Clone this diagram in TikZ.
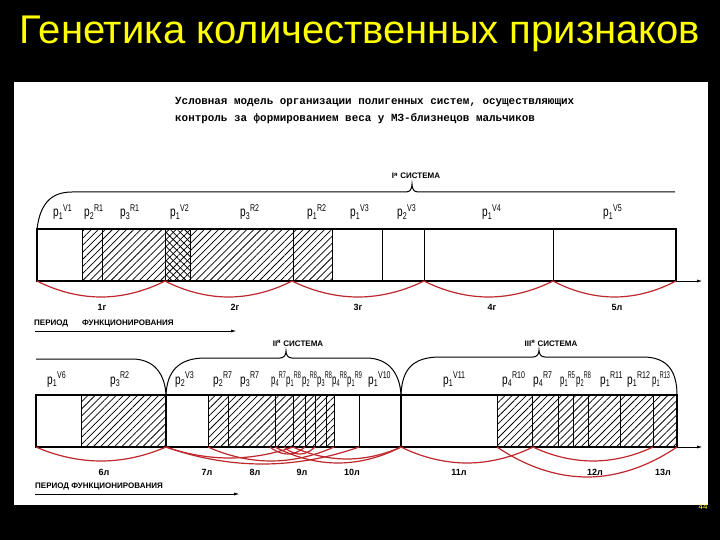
\documentclass[tikz,border=0pt]{standalone}
\usepackage{fontspec}
\setmainfont{Liberation Sans}
\newfontfamily\monofnt{Liberation Mono}
\usetikzlibrary{patterns.meta,arrows.meta}
\definecolor{arcred}{RGB}{190,40,45}
\definecolor{ttl}{RGB}{255,255,0}
\newcommand{\pl}[2]{\scalebox{0.72}[1]{p\textsubscript{#1}\textsuperscript{#2}}}
\newcommand{\plc}[2]{\scalebox{0.56}[1]{p\textsubscript{#1}\textsuperscript{#2}}}
\begin{document}
\begin{tikzpicture}[x=1pt,y=-1pt,
  bar/.style={draw=black,line width=1.1pt},
  sep/.style={draw=black,line width=0.8pt},
  hat/.style={pattern={Lines[angle=45,distance=5pt,line width=0.75pt]}},
  hatx/.style={pattern={Lines[angle=-45,distance=5pt,line width=0.75pt]}},
  arcr/.style={draw=arcred,line width=1.2pt},
  brace/.style={draw=black,line width=1pt},
  lab/.style={anchor=base west,inner sep=0pt,font=\fontsize{14}{14}\selectfont},
  per/.style={anchor=base,inner sep=0pt,font=\bfseries\fontsize{9}{9}\selectfont},
  sys/.style={anchor=base,inner sep=0pt,font=\bfseries\fontsize{8}{8}\selectfont},
  captxt/.style={anchor=base west,inner sep=0pt,font=\monofnt\bfseries\fontsize{10.9}{10.9}\selectfont},
  axl/.style={draw=black,line width=1pt,-{Latex[length=6pt,width=3pt]}}]
\useasboundingbox (0,0) rectangle (720,540);
\fill[black] (0,0) rectangle (720,540);
\fill[white] (14,82) rectangle (708,505);
% title
\node[anchor=base,inner sep=0pt,text=ttl,font=\fontsize{40}{40}\selectfont] (title) at (360,44) {Генетика количественных признаков};
\node[anchor=base,inner sep=0pt,text=ttl,font=\fontsize{8}{8}\selectfont] (pg) at (703,509) {44};
% caption
\node[captxt] (cap1) at (175,105) {Условная модель организации полигенных систем, осуществляющих};
\node[captxt] (cap2) at (175,122) {контроль за формированием веса у МЗ-близнецов мальчиков};

% ---------- row 1 ----------
\fill[hat] (82,229) rectangle (332,281);
\fill[hatx] (165,229) rectangle (190,281);
\foreach \x in {82,102,165,190,293,332,382,424,553} \draw[sep] (\x,229) -- (\x,281);
\draw[bar] (37,229) rectangle (676,281);
\draw[axl] (676,281) -- (703,281);
% brace I
\draw[brace] (37,229) .. controls (40,205) and (50,192) .. (72,192) -- (406,192)
  .. controls (410,192) and (412,189) .. (412,184) .. controls (412,189) and (414,192) .. (418,192) -- (675,192);
\node[sys] (s1) at (416,179) {I\textsuperscript{я} СИСТЕМА};
% labels
\node[lab] (a1) at (53,217) {\pl{1}{V1}};
\node[lab] (a2) at (84,217) {\pl{2}{R1}};
\node[lab] (a3) at (120,217) {\pl{3}{R1}};
\node[lab] (a4) at (170,217) {\pl{1}{V2}};
\node[lab] (a5) at (240,217) {\pl{3}{R2}};
\node[lab] (a6) at (307,217) {\pl{1}{R2}};
\node[lab] (a7) at (350,217) {\pl{1}{V3}};
\node[lab] (a8) at (397,217) {\pl{2}{V3}};
\node[lab] (a9) at (482,217) {\pl{1}{V4}};
\node[lab] (a10) at (603,217) {\pl{1}{V5}};
% arcs
\draw[arcr] (37,281) parabola bend (101,297) (165,281);
\draw[arcr] (165,281) parabola bend (228.5,297) (292,281);
\draw[arcr] (292,281) parabola bend (358,297) (424,281);
\draw[arcr] (424,281) parabola bend (488.5,297) (553,281);
\draw[arcr] (553,281) parabola bend (614.5,297) (676,281);
\node[per] (t1) at (102,310) {1г};
\node[per] (t2) at (235,310) {2г};
\node[per] (t3) at (358,310) {3г};
\node[per] (t4) at (492,310) {4г};
\node[per] (t5) at (617,310) {5л};
\node[sys,anchor=base west] (pf1) at (34,325) {ПЕРИОД};
\node[sys,anchor=base west] (pf2) at (82,325) {ФУНКЦИОНИРОВАНИЯ};
\coordinate (ar1a) at (35,331);
\coordinate (ar1b) at (237,331);
\draw[axl] (ar1a) -- (ar1b);

% ---------- row 2 ----------
\fill[hat] (81,395) rectangle (166,447);
\fill[hat] (208,395) rectangle (334,447);
\fill[hat] (497,395) rectangle (677,447);
\foreach \x in {81,208,228,275,293,305,315,326,334,359,497,532,558,573,588,620,653} \draw[sep] (\x,395) -- (\x,447);
\draw[bar] (166,395) -- (166,447);
\draw[bar] (401,395) -- (401,447);
\draw[bar] (36,395) rectangle (677,447);
\draw[axl] (677,447) -- (703,447);
% braces
\draw[brace] (36,359) -- (132,359) .. controls (155,359) and (165,375) .. (166,395);
\draw[brace] (166,395) .. controls (167,372) and (178,358) .. (205,358) -- (280,358)
  .. controls (284,358) and (286,355) .. (286,351) .. controls (286,355) and (288,358) .. (292,358) -- (366,358)
  .. controls (390,358) and (400,375) .. (401,395);
\draw[brace] (401,395) .. controls (402,370) and (412,357) .. (440,357) -- (533,357)
  .. controls (537,357) and (539,354) .. (539,350) .. controls (539,354) and (541,357) .. (545,357) -- (643,357)
  .. controls (668,357) and (677,372) .. (677,395);
\node[sys] (s2) at (298,346) {II\textsuperscript{я} СИСТЕМА};
\node[sys] (s3) at (551,346) {III\textsuperscript{я} СИСТЕМА};
% labels
\node[lab] (b1) at (47,384) {\pl{1}{V6}};
\node[lab] (b2) at (110,384) {\pl{3}{R2}};
\node[lab] (b3) at (175,384) {\pl{2}{V3}};
\node[lab] (b4) at (213,384) {\pl{2}{R7}};
\node[lab] (b5) at (240,384) {\pl{3}{R7}};
\node[lab] (b6) at (271,384) {\plc{4}{R7}};
\node[lab] (b7) at (286,384) {\plc{1}{R8}};
\node[lab] (b8) at (302,384) {\plc{2}{R8}};
\node[lab] (b9) at (317,384) {\plc{3}{R8}};
\node[lab] (b10) at (332,384) {\plc{4}{R8}};
\node[lab] (b11) at (347,384) {\plc{1}{R9}};
\node[lab] (b12) at (368,384) {\pl{1}{V10}};
\node[lab] (c1) at (443,384) {\pl{1}{V11}};
\node[lab] (c2) at (502,384) {\pl{4}{R10}};
\node[lab] (c3) at (533,384) {\pl{4}{R7}};
\node[lab] (c4) at (560,384) {\plc{1}{R5}};
\node[lab] (c5) at (576,384) {\plc{2}{R8}};
\node[lab] (c6) at (600,384) {\pl{1}{R11}};
\node[lab] (c7) at (627,384) {\pl{1}{R12}};
\node[lab] (c8) at (652,384) {\plc{1}{R13}};
% arcs
\draw[arcr] (36,447) parabola bend (101,461) (166,447);
\draw[arcr] (166,447) parabola bend (229.5,458) (293,447);
\draw[arcr] (166,447) parabola bend (262.5,464) (359,447);
\draw[arcr] (208,447) parabola bend (271,461) (334,447);
\draw[arcr] (275,447) parabola bend (338,463) (401,447);
\draw[arcr] (293,447) parabola bend (347,459) (401,447);
\draw[arcr] (270,447) parabola bend (288,454) (305,447);
\draw[arcr] (284,447) parabola bend (300,454) (315,447);
\draw[arcr] (401,447) parabola bend (467,463) (533,447);
\draw[arcr] (497,447) parabola bend (587,477) (677,447);
\draw[arcr] (533,447) parabola bend (593,461) (653,447);
\node[per] (u6) at (104,475) {6л};
\node[per] (u7) at (207,475) {7л};
\node[per] (u8) at (255,475) {8л};
\node[per] (u9) at (302,475) {9л};
\node[per] (u10) at (352,475) {10л};
\node[per] (u11) at (459,475) {11л};
\node[per] (u12) at (595,475) {12л};
\node[per] (u13) at (663,475) {13л};
\node[sys,anchor=base west] (pf3) at (35,488) {ПЕРИОД ФУНКЦИОНИРОВАНИЯ};
\coordinate (ar2a) at (35,494);
\coordinate (ar2b) at (240,494);
\draw[axl] (ar2a) -- (ar2b);
\end{tikzpicture}
\end{document}
